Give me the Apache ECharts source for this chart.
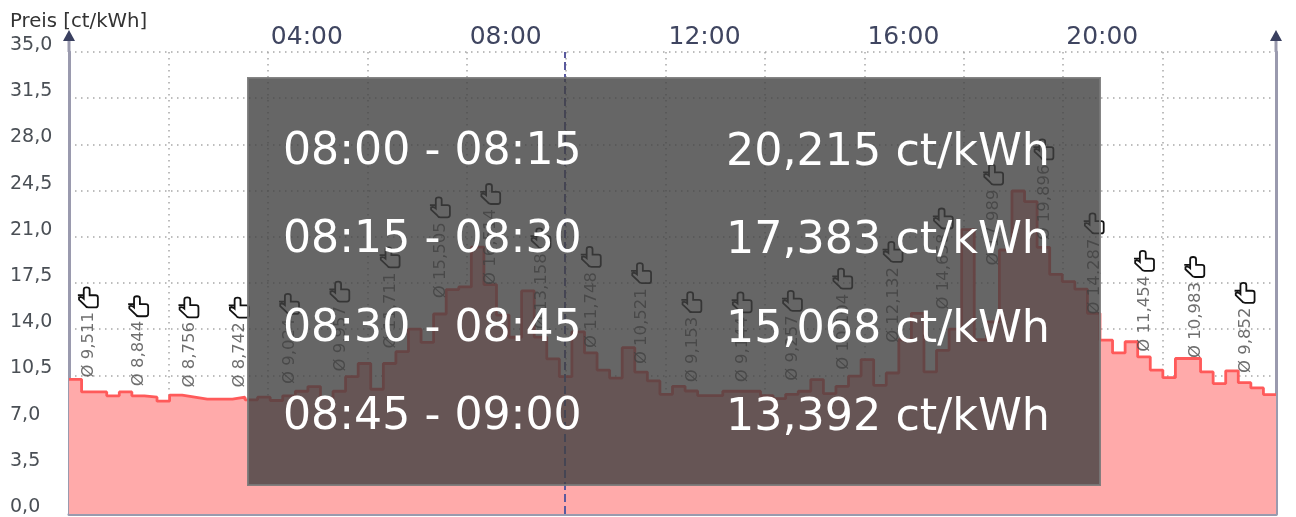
<!DOCTYPE html>
<html>
<head>
<meta charset="utf-8">
<style>html,body{margin:0;padding:0;background:#fff}#main{width:1296px;height:517px}</style>
<script src="https://cdn.jsdelivr.net/npm/echarts@6/dist/echarts.min.js"></script>
</head>
<body>
<div id="main"></div>
<script>
// Viertelstundenpreise ct/kWh, 00:00 - 24:00
const quarterPrices = [
  10.2, 9.25, 9.25, 8.95, 9.25, 8.95, 8.85, 8.55,
  9.0, 8.85, 8.7, 8.7, 8.7, 8.85, 8.65, 8.85,
  8.6, 8.95, 9.3, 9.65, 8.75, 9.3, 10.4, 11.4,
  9.45, 11.4, 12.3, 14.0, 13.0, 15.15, 17.0, 17.2,
  20.215, 17.383, 15.068, 13.392, 16.9, 13.4, 11.75, 10.4,
  13.8, 12.2, 10.9, 10.3, 12.6, 10.75, 10.08, 9.07,
  9.67, 9.32, 8.97, 8.97, 9.3, 9.3, 9.3, 8.97,
  8.74, 9.07, 9.3, 10.18, 9.12, 9.67, 10.45, 11.7,
  9.75, 10.68, 13.2, 15.2, 10.76, 12.4, 14.0, 21.55,
  13.2, 14.55, 20.0, 24.47, 23.66, 20.2, 18.15, 17.6,
  17.03, 15.2, 13.17, 12.2, 13.05, 11.9, 10.9, 10.33,
  11.78, 11.78, 10.76, 9.88, 10.85, 9.95, 9.55, 9.05
];
// Stundenmittel
const hourAverages = [
  9.511, 8.844, 8.756, 8.742, 9.024, 9.957, 11.711, 15.505,
  16.514, 13.158, 11.748, 10.521, 9.153, 9.144, 9.257, 10.104,
  12.132, 14.658, 17.989, 19.896, 14.287, 11.454, 10.983, 9.852
];
const yTicks = ['0,0', '3,5', '7,0', '10,5', '14,0', '17,5', '21,0', '24,5', '28,0', '31,5', '35,0'];
const gridHours = [0, 2, 4, 6, 8, 10, 12, 14, 16, 18, 20, 22];
const xTickHours = [4, 8, 12, 16, 20];
const xTickLabels = ['04:00', '08:00', '12:00', '16:00', '20:00'];
const overlayTimes = ['08:00 - 08:15', '08:15 - 08:30', '08:30 - 08:45', '08:45 - 09:00'];
const overlayPrices = ['20,215 ct/kWh', '17,383 ct/kWh', '15,068 ct/kWh', '13,392 ct/kWh'];
const nowQuarter = 39.46; // gestrichelte Linie

const FONT = '"DejaVu Sans", sans-serif';
const HAND = 'path://M7 8V3Q7 1 9.5 1Q12 1 12 3V8H17Q19 8 19 10V17Q19 19 17 19H11Q9 19 8 17L3 12V10Q5 9 7 11ZM2 8H7';
const DOTS = { type: [1.5, 4.5], color: '#a8a8a8', width: 1.5 };

const linePoints = quarterPrices.map((v, i) => [i, v]);
linePoints.push([quarterPrices.length, quarterPrices[quarterPrices.length - 1]]);
const avgPoints = hourAverages.map((v, h) => [h * 4 + 1.5, v]);
// Hand sitzt oberhalb vom Text, der bei zweistelligen Werten länger ist
const handPoints = avgPoints.map(p => ({ value: p, symbolOffset: [0, p[1] >= 10 ? -102 : -91] }));

// Overlay-Zeilen
const overlayY = [157, 245, 334, 422];
const overlayGraphics = [{
  type: 'rect', z: 100,
  shape: { x: 248, y: 78, width: 852, height: 407 },
  style: { fill: 'rgba(64,64,64,0.8)', stroke: 'rgba(120,120,120,0.9)', lineWidth: 2 }
}];
overlayTimes.forEach((t, i) => {
  overlayGraphics.push({
    type: 'text', z: 101, left: 283, top: overlayY[i] - 26,
    style: { text: t, fill: '#fff', font: '44.2px ' + FONT }
  });
  overlayGraphics.push({
    type: 'text', z: 101, left: 726, top: overlayY[i] - 26,
    style: { text: overlayPrices[i], fill: '#fff', font: '44.4px ' + FONT }
  });
});
// Pfeile an den Achsen
[69, 1276].forEach(x => {
  overlayGraphics.push({
    type: 'line', z: 90,
    shape: { x1: x, y1: 38, x2: x, y2: 52 },
    style: { stroke: '#9a9aae', lineWidth: 3 }
  });
  overlayGraphics.push({
    type: 'polygon', z: 91,
    shape: { points: [[x - 6, 41], [x + 6, 41], [x, 30]] },
    style: { fill: '#3a4060' }
  });
});

const chart = echarts.init(document.getElementById('main'), null, { renderer: 'canvas' });
chart.setOption({
  animation: false,
  backgroundColor: '#fff',
  title: {
    text: 'Preis [ct/kWh]', left: 5, top: 7,
    textStyle: { fontFamily: FONT, fontSize: 19.7, fontWeight: 'normal', color: '#333' }
  },
  grid: { left: 69, right: 20, top: 52, bottom: 3, containLabel: false, outerBoundsMode: 'none' },
  xAxis: [
    {
      type: 'value', min: 0, max: 96, position: 'bottom',
      axisLine: { onZero: false, lineStyle: { color: '#9a9aae', width: 3 } },
      axisTick: { show: false }, axisLabel: { show: false }, splitLine: { show: false }
    },
    {
      type: 'value', min: 0, max: 24.28, position: 'top',
      axisLine: { show: false },
      axisTick: { show: false, customValues: gridHours },
      splitLine: { show: true, lineStyle: DOTS },
      axisLabel: {
        customValues: xTickHours,
        align: 'left', margin: 2, padding: [0, 0, 0, 3],
        fontFamily: FONT, fontSize: 25, color: '#3f4560',
        formatter: v => xTickLabels[xTickHours.indexOf(v)]
      }
    }
  ],
  yAxis: [
    {
      type: 'value', min: 0, max: 35, interval: 3.5,
      axisLine: { show: true, onZero: false, lineStyle: { color: '#9a9aae', width: 3 } },
      axisTick: { show: false },
      splitLine: { show: true, lineStyle: DOTS },
      axisLabel: {
        align: 'left', margin: 59, verticalAlign: 'bottom', lineHeight: 14,
        fontFamily: FONT, fontSize: 19, color: '#4a4f55',
        formatter: (v) => yTicks[Math.round(v / 3.5)]
      }
    },
    {
      type: 'value', min: 0, max: 35, interval: 3.5, position: 'right',
      axisLine: { show: true, onZero: false, lineStyle: { color: '#9a9aae', width: 3 } },
      axisTick: { show: false }, axisLabel: { show: false }, splitLine: { show: false }
    }
  ],
  series: [
    {
      type: 'line', step: 'end', data: linePoints, xAxisIndex: 0, yAxisIndex: 0,
      symbol: 'none', z: 3,
      lineStyle: { color: '#ff5a5a', width: 2.8 },
      areaStyle: { color: '#ffaaaa', opacity: 1 },
      markLine: {
        silent: true, symbol: 'none', label: { show: false },
        lineStyle: { color: '#5a5a9e', type: 'dashed', width: 2 },
        data: [{ xAxis: nowQuarter }]
      }
    },
    {
      type: 'scatter', data: avgPoints, xAxisIndex: 0, yAxisIndex: 0,
      symbolSize: 0, z: 4,
      label: {
        show: true, position: 'top', distance: 9, rotate: 90,
        align: 'left', verticalAlign: 'middle', offset: [2, 1],
        fontFamily: FONT, fontSize: 16.5, color: '#4a4a4a',
        formatter: p => 'Ø ' + p.value[1].toFixed(3).replace('.', ',')
      }
    },
    {
      type: 'scatter', data: handPoints, xAxisIndex: 0, yAxisIndex: 0,
      symbol: HAND, symbolSize: 20, z: 4,
      itemStyle: { color: 'rgba(255,255,255,0)', borderColor: '#111', borderWidth: 1.8, opacity: 1 }
    }
  ],
  graphic: overlayGraphics
});
</script>
</body>
</html>
